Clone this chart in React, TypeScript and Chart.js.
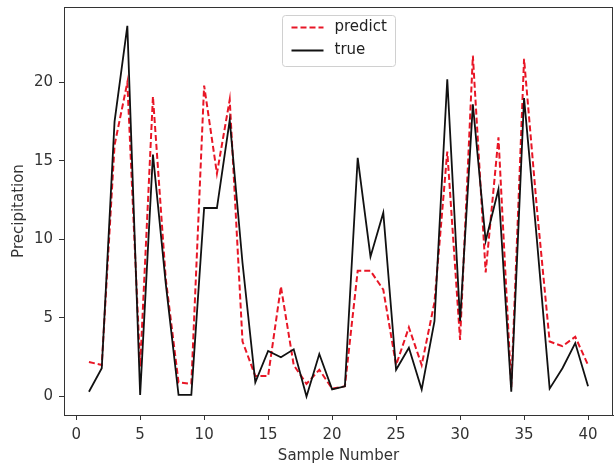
import React, { useEffect, useRef } from "react";
import { Chart, registerables } from "chart.js";

Chart.register(...registerables);

const sampleNumbers: number[] = Array.from({ length: 40 }, (_, i) => i + 1);

const predictValues: number[] = [
  2.2, 2.0, 16.0, 20.0, 1.9, 19.1, 7.5, 0.9, 0.8, 19.8,
  14.2, 18.9, 3.5, 1.3, 1.3, 7.0, 2.0, 0.8, 1.7, 0.5,
  0.65, 8.0, 8.0, 6.8, 2.0, 4.4, 2.0, 6.0, 15.6, 3.6,
  21.7, 7.9, 16.5, 0.6, 21.5, 12.0, 3.5, 3.2, 3.8, 2.0,
];

const trueValues: number[] = [
  0.3, 1.8, 17.5, 23.6, 0.1, 15.4, 7.2, 0.1, 0.1, 12.0,
  12.0, 17.6, 8.5, 0.9, 2.9, 2.5, 3.0, 0.0, 2.7, 0.45,
  0.65, 15.2, 8.9, 11.7, 1.7, 3.1, 0.45, 4.8, 20.2, 4.8,
  18.6, 9.9, 13.2, 0.3, 19.0, 10.0, 0.5, 1.8, 3.4, 0.65,
];

const xTicks: number[] = [0, 5, 10, 15, 20, 25, 30, 35, 40];
const yTicks: number[] = [0, 5, 10, 15, 20];

const seriesLabels: string[] = ["predict", "true"];
const xTitle = "Sample Number";
const yTitle = "Precipitation";

const RED = "rgb(232,22,38)";
const BLACK = "#111111";
const AXIS = "#333333";
const FONT = "'DejaVu Sans', sans-serif";
const FS = 15;

const framePlugin = {
  id: "frame",
  afterDraw(chart: any) {
    const { ctx, chartArea } = chart;
    ctx.save();
    ctx.strokeStyle = AXIS;
    ctx.lineWidth = 1;
    ctx.strokeRect(
      Math.round(chartArea.left) + 0.5,
      Math.round(chartArea.top) + 0.5,
      Math.round(chartArea.right - chartArea.left) - 1,
      Math.round(chartArea.bottom - chartArea.top)
    );
    ctx.restore();
  },
};

const legendPlugin = {
  id: "mplLegend",
  afterDraw(chart: any) {
    const { ctx, chartArea } = chart;
    const ds = chart.data.datasets;
    const boxW = 113;
    const boxH = 51;
    const cx = (chartArea.left + chartArea.right) / 2;
    const x0 = Math.round(cx - boxW / 2) + 0.5;
    const y0 = Math.round(chartArea.top + 8) + 0.5;
    ctx.save();
    ctx.fillStyle = "rgba(255,255,255,0.85)";
    ctx.strokeStyle = "#d0d0d0";
    ctx.lineWidth = 1;
    const r = 3;
    ctx.beginPath();
    ctx.moveTo(x0 + r, y0);
    ctx.lineTo(x0 + boxW - r, y0);
    ctx.quadraticCurveTo(x0 + boxW, y0, x0 + boxW, y0 + r);
    ctx.lineTo(x0 + boxW, y0 + boxH - r);
    ctx.quadraticCurveTo(x0 + boxW, y0 + boxH, x0 + boxW - r, y0 + boxH);
    ctx.lineTo(x0 + r, y0 + boxH);
    ctx.quadraticCurveTo(x0, y0 + boxH, x0, y0 + boxH - r);
    ctx.lineTo(x0, y0 + r);
    ctx.quadraticCurveTo(x0, y0, x0 + r, y0);
    ctx.closePath();
    ctx.fill();
    ctx.stroke();
    ds.forEach((d: any, i: number) => {
      const yy = y0 + 12 + i * 23;
      ctx.beginPath();
      ctx.strokeStyle = d.borderColor;
      ctx.lineWidth = d.borderWidth;
      ctx.setLineDash(d.borderDash || []);
      ctx.moveTo(x0 + 9, yy);
      ctx.lineTo(x0 + 41, yy);
      ctx.stroke();
      ctx.setLineDash([]);
      ctx.fillStyle = "#222";
      ctx.font = FS + "px " + FONT;
      ctx.textBaseline = "middle";
      ctx.textAlign = "left";
      ctx.fillText(d.label, x0 + 52, yy);
    });
    ctx.restore();
  },
};

export default function App() {
  const canvasRef = useRef<HTMLCanvasElement | null>(null);

  useEffect(() => {
    document.body.style.margin = "0";
    const canvas = canvasRef.current;
    if (!canvas) return;
    const chart = new Chart(canvas, {
      type: "line",
      data: {
        datasets: [
          {
            label: seriesLabels[0],
            data: sampleNumbers.map((x, i) => ({ x, y: predictValues[i] })),
            borderColor: RED,
            backgroundColor: RED,
            borderWidth: 2,
            borderDash: [6, 3],
            pointRadius: 0,
            tension: 0,
            fill: false,
            order: 1,
          },
          {
            label: seriesLabels[1],
            data: sampleNumbers.map((x, i) => ({ x, y: trueValues[i] })),
            borderColor: BLACK,
            backgroundColor: BLACK,
            borderWidth: 1.8,
            pointRadius: 0,
            tension: 0,
            fill: false,
            order: 0,
          },
        ],
      },
      options: {
        responsive: false,
        animation: false,
        devicePixelRatio: 1,
        layout: { padding: { top: 7, right: 1, left: 0, bottom: 0 } },
        plugins: {
          legend: { display: false },
          tooltip: { enabled: false },
        },
        scales: {
          x: {
            type: "linear",
            min: -0.95,
            max: 41.95,
            afterBuildTicks: (scale: any) => {
              scale.ticks = xTicks.map((v) => ({ value: v }));
            },
            afterFit: (scale: any) => {
              scale.height = 50;
              scale.paddingLeft = 0;
              scale.paddingRight = 0;
            },
            grid: {
              display: true,
              drawOnChartArea: false,
              drawTicks: true,
              tickLength: 5,
              color: AXIS,
            },
            border: { display: true, color: AXIS },
            ticks: {
              color: "#333",
              font: { family: FONT, size: FS },
              padding: 6,
              maxRotation: 0,
              autoSkip: false,
            },
            title: {
              display: true,
              text: xTitle,
              color: "#333",
              font: { family: FONT, size: FS },
              padding: { top: 0, bottom: 0 },
            },
          },
          y: {
            type: "linear",
            min: -1.18,
            max: 24.8,
            afterBuildTicks: (scale: any) => {
              scale.ticks = yTicks.map((v) => ({ value: v }));
            },
            afterFit: (scale: any) => {
              scale.width = 64;
              scale.paddingTop = 0;
              scale.paddingBottom = 0;
            },
            grid: {
              display: true,
              drawOnChartArea: false,
              drawTicks: true,
              tickLength: 5,
              color: AXIS,
            },
            border: { display: true, color: AXIS },
            ticks: {
              color: "#333",
              font: { family: FONT, size: FS },
              padding: 6,
              autoSkip: false,
            },
            title: {
              display: true,
              text: yTitle,
              color: "#333",
              font: { family: FONT, size: FS },
              padding: { top: 10, bottom: 0 },
            },
          },
        },
      },
      plugins: [framePlugin, legendPlugin],
    } as any);
    return () => chart.destroy();
  }, []);

  return (
    <div style={{ position: "absolute", left: 0, top: 0, width: 614, height: 465, background: "#fff" }}>
      <canvas ref={canvasRef} width={614} height={465} style={{ width: 614, height: 465, display: "block" }} />
    </div>
  );
}
